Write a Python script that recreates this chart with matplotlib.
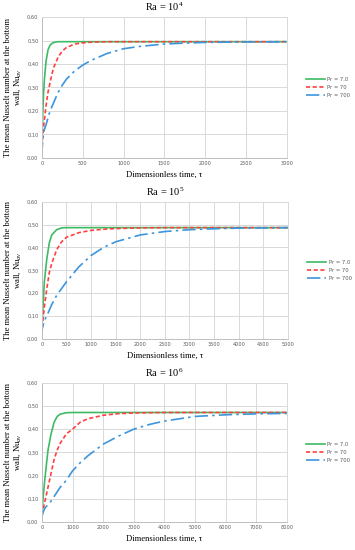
import matplotlib
matplotlib.use("Agg")
import matplotlib.pyplot as plt
from matplotlib.ticker import FuncFormatter, MultipleLocator

plt.rcParams["mathtext.fontset"] = "custom"
plt.rcParams["mathtext.rm"] = "Liberation Serif"
plt.rcParams["mathtext.it"] = "Liberation Serif:italic"

# --- data ---
titles = [r"Ra = 10$^{\mathrm{4}}$", r"Ra = 10$^{\mathrm{5}}$", r"Ra = 10$^{\mathrm{6}}$"]
labels = ["Pr = 7.0", "Pr = 70", "Pr = 700"]
xmax = [3000, 5000, 8000]
xstep = [500, 500, 1000]

# Ra = 1e4
t1 = [0, 5, 10, 20, 30, 50, 75, 100, 125, 150, 200, 250, 300, 400, 500,
      600, 700, 800, 1000, 1200, 1500, 1750, 2000, 2500, 3000]
g1 = [0.02, 0.12, 0.18, 0.27, 0.33, 0.41, 0.46, 0.48, 0.488, 0.492, 0.495, 0.495,
      0.495, 0.495, 0.495, 0.495, 0.495, 0.495, 0.495, 0.495, 0.495, 0.495, 0.495,
      0.495, 0.495]
r1 = [0.02, 0.06, 0.09, 0.13, 0.16, 0.22, 0.28, 0.32, 0.36, 0.39, 0.43, 0.455,
      0.47, 0.485, 0.49, 0.493, 0.494, 0.495, 0.495, 0.495, 0.495, 0.495, 0.495,
      0.495, 0.495]
b1 = [0.01, 0.05, 0.08, 0.10, 0.12, 0.14, 0.17, 0.20, 0.22, 0.24, 0.28, 0.31,
      0.335, 0.37, 0.395, 0.415, 0.43, 0.445, 0.465, 0.475, 0.485, 0.489, 0.492,
      0.494, 0.495]

# Ra = 1e5
t2 = [0, 10, 25, 50, 100, 150, 200, 300, 400, 500, 750, 1000, 1250, 1500,
      2000, 2500, 3000, 3500, 4000, 4500, 5000]
g2 = [0.03, 0.09, 0.15, 0.25, 0.35, 0.42, 0.455, 0.478, 0.486, 0.487, 0.487,
      0.487, 0.487, 0.487, 0.487, 0.487, 0.487, 0.487, 0.487, 0.487, 0.487]
r2 = [0.02, 0.05, 0.09, 0.14, 0.22, 0.29, 0.33, 0.39, 0.425, 0.445, 0.465,
      0.475, 0.48, 0.483, 0.486, 0.487, 0.487, 0.487, 0.487, 0.487, 0.487]
b2 = [0.01, 0.05, 0.06, 0.08, 0.10, 0.125, 0.15, 0.19, 0.22, 0.25, 0.315,
      0.365, 0.40, 0.425, 0.455, 0.47, 0.478, 0.482, 0.485, 0.486, 0.487]

# Ra = 1e6
t3 = [0, 25, 50, 100, 200, 300, 400, 500, 600, 800, 1000, 1250, 1500, 2000,
      2500, 3000, 3500, 4000, 5000, 6000, 7000, 8000]
g3 = [0.03, 0.08, 0.12, 0.19, 0.31, 0.38, 0.43, 0.455, 0.465, 0.471, 0.472,
      0.472, 0.472, 0.472, 0.472, 0.472, 0.472, 0.472, 0.472, 0.472, 0.472, 0.472]
r3 = [0.03, 0.045, 0.06, 0.09, 0.15, 0.21, 0.27, 0.31, 0.34, 0.38, 0.40, 0.43,
      0.445, 0.46, 0.467, 0.47, 0.471, 0.472, 0.472, 0.472, 0.472, 0.472]
b3 = [0.02, 0.035, 0.045, 0.06, 0.075, 0.09, 0.11, 0.13, 0.15, 0.18, 0.22,
      0.255, 0.285, 0.335, 0.37, 0.40, 0.42, 0.435, 0.455, 0.462, 0.466, 0.468]

times = [t1, t2, t3]
series = [[g1, r1, b1], [g2, r2, b2], [g3, r3, b3]]

colors = ["#3dbb63", "#ff4040", "#3d95dd"]
styles = ["-", (0, (2.5, 1.5)), (0, (8, 2.5, 1.5, 2.5))]

# axes boxes in figure fraction (left, bottom, width, height)
boxes = [(0.118, 0.713, 0.690, 0.256),
         (0.118, 0.384, 0.693, 0.249),
         (0.118, 0.051, 0.690, 0.253)]

serif = "Liberation Serif"
fig = plt.figure(figsize=(3.55, 5.5), dpi=100)

comma = FuncFormatter(lambda v, p: ("%.2f" % v).replace(".", ","))

for i in range(3):
    ax = fig.add_axes(boxes[i])
    for k in range(3):
        ax.plot(times[i], series[i][k], color=colors[k], linestyle=styles[k],
                linewidth=1.2, label=labels[k])
    ax.set_xlim(0, xmax[i])
    ax.set_ylim(0, 0.6)
    ax.xaxis.set_major_locator(MultipleLocator(xstep[i]))
    ax.yaxis.set_major_locator(MultipleLocator(0.1))
    ax.yaxis.set_major_formatter(comma)
    ax.grid(True, color="#d9d9d9", linewidth=0.7)
    ax.set_axisbelow(True)
    for s in ax.spines.values():
        s.set_color("#d9d9d9")
        s.set_linewidth(0.7)
    ax.spines["left"].set_color("#bfbfbf")
    ax.spines["bottom"].set_color("#bfbfbf")
    ax.tick_params(length=0, labelsize=3.6, labelcolor="#595959", pad=2.5)
    ax.set_title(titles[i], fontfamily=serif, fontsize=7.5, pad=4)
    ax.set_xlabel("Dimensionless time, τ", fontfamily=serif, fontsize=6.2, labelpad=3)
    ax.set_ylabel("The mean Nusselt number at the bottom\nwall, $\\mathrm{Nu}_{av}$",
                  fontfamily=serif, fontsize=6.2, labelpad=3, linespacing=1.1)
    leg = ax.legend(loc="center left", bbox_to_anchor=(1.06, 0.5), frameon=False,
                    fontsize=3.8, handlelength=3.6, handletextpad=0.4,
                    labelspacing=0.6)
    for txt in leg.get_texts():
        txt.set_color("#595959")

fig.savefig("out.png", dpi=100)
